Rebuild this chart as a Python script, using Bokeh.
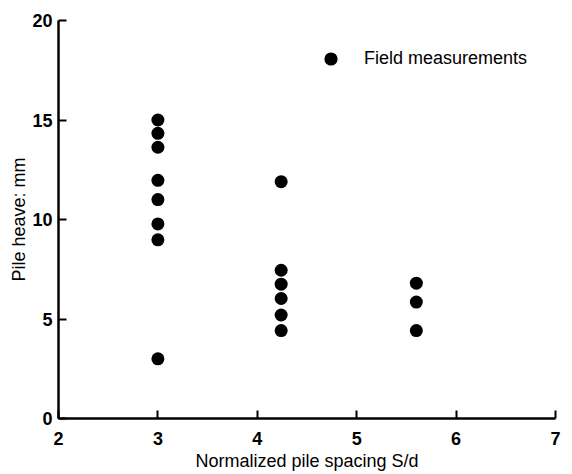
from bokeh.plotting import figure
from bokeh.models import Legend, LegendItem, Range1d, FixedTicker
from bokeh.embed import file_html
from bokeh.resources import INLINE

# Data
spacing = [3.0, 3.0, 3.0, 3.0, 3.0, 3.0, 3.0, 3.0,
           4.24, 4.24, 4.24, 4.24, 4.24, 4.24,
           5.6, 5.6, 5.6]
heave = [15.0, 14.33, 13.63, 11.97, 11.0, 9.78, 8.98, 3.0,
         11.9, 7.45, 6.75, 6.03, 5.2, 4.42,
         6.8, 5.85, 4.42]
x_ticks = [2, 3, 4, 5, 6, 7]
y_ticks = [0, 5, 10, 15, 20]

FONT = "Liberation Sans"

p = figure(width=572, height=474, output_backend="svg", toolbar_location=None,
           x_range=Range1d(2, 7), y_range=Range1d(0, 20),
           min_border_left=58, min_border_right=17, min_border_top=20, min_border_bottom=56)
p.outline_line_color = None
p.xgrid.grid_line_color = None
p.ygrid.grid_line_color = None
p.background_fill_color = "white"
p.border_fill_color = "white"

r = p.scatter(spacing, heave, size=13, fill_color="black", line_color=None)

for ax in (p.xaxis[0], p.yaxis[0]):
    ax.axis_line_width = 2.5
    ax.axis_line_color = "black"
    ax.major_tick_in = 8
    ax.major_tick_out = 0
    ax.major_tick_line_width = 2
    ax.major_tick_line_color = "black"
    ax.minor_tick_line_color = None
    ax.major_label_text_font = FONT
    ax.major_label_text_font_size = "18px"
    ax.major_label_text_font_style = "bold"
    ax.major_label_text_color = "black"
    ax.axis_label_text_font = FONT
    ax.axis_label_text_font_size = "18px"
    ax.axis_label_text_font_style = "normal"
    ax.axis_label_text_color = "black"

p.xaxis.ticker = FixedTicker(ticks=x_ticks)
p.yaxis.ticker = FixedTicker(ticks=y_ticks)
p.xaxis.major_label_standoff = 13
p.yaxis.major_label_standoff = 6

p.yaxis.axis_label = "Pile heave: mm"
p.yaxis.axis_label_standoff = 0
p.xaxis.axis_label = "Normalized pile spacing S/d"
p.xaxis.axis_label_standoff = 3

legend = Legend(items=[LegendItem(label="Field measurements", renderers=[r])],
                location=(256, 343), border_line_alpha=0, background_fill_alpha=0,
                padding=0, margin=0, label_standoff=17, glyph_width=33, glyph_height=33,
                label_text_font=FONT, label_text_font_size="18px", label_text_color="black")
p.add_layout(legend)

open("out.html", "w").write(file_html(p, INLINE))
